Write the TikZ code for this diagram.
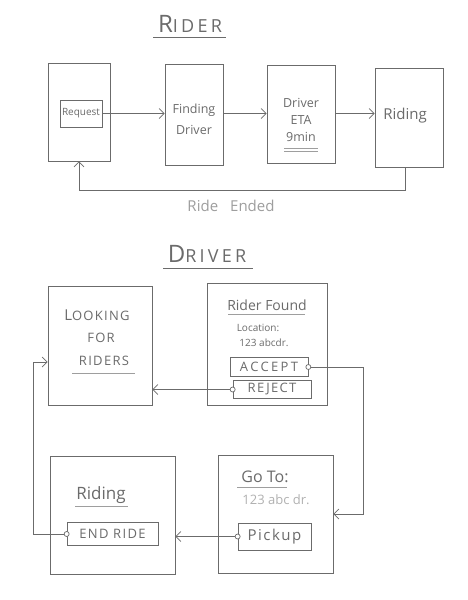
\documentclass[tikz,border=0pt]{standalone}
\usepackage{fontspec}
\setmainfont{Open Sans}
\usetikzlibrary{arrows.meta}
\definecolor{pencil}{gray}{0.42}
\definecolor{lightpencil}{gray}{0.62}
\newfontfamily\spaced[LetterSpace=18]{Open Sans}
\newfontfamily\wide[LetterSpace=10]{Open Sans}
\tikzset{
  x=1pt, y=-1pt,
  box/.style={draw=pencil, line width=0.8pt, rectangle, inner sep=0pt},
  btn/.style={draw=pencil, line width=0.7pt, rectangle, inner sep=0pt, text=pencil},
  txt/.style={text=pencil, inner sep=0pt, align=center},
  link/.style={draw=pencil, line width=0.7pt},
  arr/.style={link, -{Straight Barb[length=5pt,width=10pt]}},
  dot/.style={draw=pencil, line width=0.7pt, fill=white, circle, inner sep=0pt, minimum size=5pt},
  uline/.style={draw=lightpencil, line width=0.6pt}
}
\begin{document}
\begin{tikzpicture}
\useasboundingbox[fill=white] (0,0) rectangle (467,600);

% ---------- RIDER ----------
\node[txt, font=\spaced\fontsize{24}{26}\selectfont] (tr) at (190,24) {R\fontsize{18}{20}\selectfont IDER};
\draw[uline, draw=pencil] (153,37) -- (226,37);

\node[box, minimum width=62, minimum height=98] (r1) at (79,112) {};
\node[box, minimum width=58, minimum height=101] (r2) at (194,114.5) {};
\node[box, minimum width=68, minimum height=98] (r3) at (301,114) {};
\node[box, minimum width=68, minimum height=99] (r4) at (409,117.5) {};

\node[btn, minimum width=42, minimum height=27, font=\fontsize{10}{12}\selectfont] (req) at (81,113.5) {Request};
\node[txt, font=\fontsize{12.5}{21}\selectfont] (t2) at (194,119) {Finding\\Driver};
\node[txt, font=\fontsize{12.5}{17}\selectfont] (t3) at (301,120) {Driver\\ETA\\9min};
\draw[uline] (284,148) -- (318,148);
\draw[uline] (284,151) -- (318,151);
\node[txt, font=\fontsize{15}{18}\selectfont] (t4) at (405,116) {Riding};

\draw[arr] (req.east) -- (req.east -| r2.west);
\draw[arr] (r2.east |- req.east) -- (req.east -| r3.west);
\draw[arr] (r3.east |- req.east) -- (req.east -| r4.west);
\coordinate (rb) at (405,190);
\draw[arr] (r4.south -| rb) -- (rb) -- (rb -| r1.south) -- (r1.south);
\node[txt, text=lightpencil, font=\fontsize{15}{18}\selectfont] (re) at (231,206) {Ride\hspace{12pt}Ended};

% ---------- DRIVER ----------
\node[txt, font=\spaced\fontsize{24}{26}\selectfont] (td) at (207,254) {D\fontsize{18}{20}\selectfont RIVER};
\draw[uline, draw=pencil] (163,268) -- (253,268);

\node[box, minimum width=104, minimum height=119] (look) at (100,346) {};
\node[txt, font=\wide\fontsize{15}{17}\selectfont] (l1) at (97,315) {L\fontsize{13}{15}\selectfont OOKING};
\node[txt, font=\wide\fontsize{13}{15}\selectfont] (l2) at (101,338) {FOR};
\node[txt, font=\wide\fontsize{13}{15}\selectfont] (l3) at (104,361) {RIDERS};
\draw[uline] (72,373) -- (135,373);

\node[box, minimum width=120, minimum height=122] (found) at (267,344.5) {};
\node[txt, font=\fontsize{14}{16}\selectfont] (f1) at (267,305) {Rider Found};
\draw[uline] (228,314) -- (305,314);
\node[txt, font=\fontsize{10}{12}\selectfont] (f2) at (258,328) {Location:};
\node[txt, font=\fontsize{10}{12}\selectfont] (f3) at (264,343) {123 abcdr.};
\node[btn, minimum width=78, minimum height=19, font=\spaced\fontsize{13}{15}\selectfont] (acc) at (269,367) {ACCEPT};
\node[btn, minimum width=78, minimum height=18, font=\wide\fontsize{13}{15}\selectfont] (rej) at (272,389.5) {REJECT};

\node[box, minimum width=125, minimum height=118] (ride) at (112.5,515) {};
\node[txt, font=\fontsize{17}{19}\selectfont] (d1) at (101,495) {Riding};
\draw[uline] (75,506) -- (128,506);
\node[btn, minimum width=91, minimum height=23, font=\wide\fontsize{13}{15}\selectfont] (endr) at (112.5,534) {END RIDE};

\node[box, minimum width=115, minimum height=118] (goto) at (275.5,514) {};
\node[txt, font=\fontsize{16}{18}\selectfont] (g1) at (265,477) {Go To:};
\draw[uline] (237,487) -- (287,487);
\node[txt, text=lightpencil!80, font=\fontsize{13}{15}\selectfont] (g2) at (276,500) {123 abc dr.};
\node[btn, minimum width=73, minimum height=27, font=\wide\fontsize{15}{17}\selectfont] (pick) at (274.5,536.5) {Pickup};

% connectors
\coordinate (ar) at (363,366);
\draw[arr] (acc.east) -- (acc.east -| ar) |- (goto.east);
\node[dot] (accd) at (acc.east) {};

\draw[arr] (rej.west) -- (rej.west -| look.east);
\node[dot] (rejd) at (rej.west) {};

\draw[arr] (pick.west) -- (pick.west -| ride.east);
\node[dot] (pickd) at (pick.west) {};

\coordinate (lp) at (33,362);
\draw[arr] (endr.west) -- (endr.west -| lp) -- (lp) -- (lp -| look.west);
\node[dot] (endd) at (endr.west) {};
\end{tikzpicture}
\end{document}
